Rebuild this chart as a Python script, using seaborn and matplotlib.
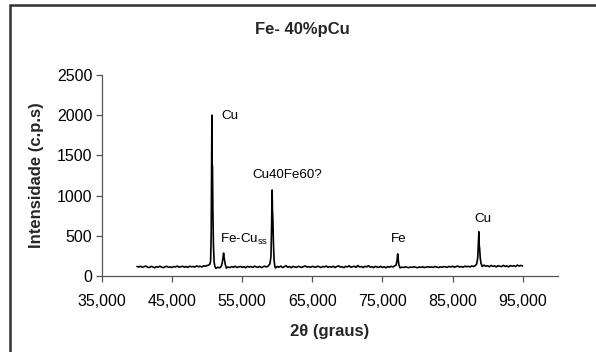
import matplotlib
matplotlib.use("Agg")
import matplotlib.pyplot as plt
from matplotlib.patches import Rectangle
from matplotlib.ticker import FuncFormatter, FixedLocator
import seaborn as sns
import pandas as pd

two_theta = [
    40.0, 40.25, 40.5, 40.75, 41.0, 41.25, 41.5, 41.75, 42.0, 42.25, 42.5, 42.75, 43.0, 43.25, 43.5, 43.75,
    44.0, 44.25, 44.5, 44.75, 45.0, 45.25, 45.5, 45.75, 46.0, 46.25, 46.5, 46.75, 47.0, 47.25, 47.5, 47.75,
    48.0, 48.25, 48.5, 48.75, 49.0, 49.25, 49.5, 49.75, 50.0, 50.25,
    50.4, 50.5, 50.58, 50.64, 50.68, 50.71, 50.76, 50.82, 50.9, 51.0, 51.1,
    51.25, 51.5, 51.75, 52.0,
    52.15, 52.27, 52.35, 52.42, 52.5, 52.6,
    52.75, 53.0, 53.25, 53.5, 53.75, 54.0, 54.25, 54.5, 54.75, 55.0, 55.25, 55.5, 55.75,
    56.0, 56.25, 56.5, 56.75, 57.0, 57.25, 57.5, 57.75, 58.0, 58.25, 58.5, 58.75,
    58.95, 59.1, 59.2, 59.27, 59.32, 59.38, 59.45, 59.55, 59.65,
    59.75, 60.0, 60.25, 60.5, 60.75, 61.0, 61.25, 61.5, 61.75, 62.0, 62.25, 62.5, 62.75,
    63.0, 63.25, 63.5, 63.75, 64.0, 64.25, 64.5, 64.75, 65.0, 65.25, 65.5, 65.75,
    66.0, 66.25, 66.5, 66.75, 67.0, 67.25, 67.5, 67.75, 68.0, 68.25, 68.5, 68.75,
    69.0, 69.25, 69.5, 69.75, 70.0, 70.25, 70.5, 70.75, 71.0, 71.25, 71.5, 71.75,
    72.0, 72.25, 72.5, 72.75, 73.0, 73.25, 73.5, 73.75, 74.0, 74.25, 74.5, 74.75,
    75.0, 75.25, 75.5, 75.75, 76.0, 76.25, 76.5, 76.75,
    76.95, 77.08, 77.18, 77.26, 77.35, 77.45,
    77.5, 77.75, 78.0, 78.25, 78.5, 78.75, 79.0, 79.25, 79.5, 79.75, 80.0, 80.25,
    80.5, 80.75, 81.0, 81.25, 81.5, 81.75, 82.0, 82.25, 82.5, 82.75, 83.0, 83.25,
    83.5, 83.75, 84.0, 84.25, 84.5, 84.75, 85.0, 85.25, 85.5, 85.75, 86.0, 86.25,
    86.5, 86.75, 87.0, 87.25, 87.5, 87.75, 88.0, 88.25,
    88.45, 88.6, 88.7, 88.76, 88.81, 88.87, 88.95, 89.05,
    89.25, 89.5, 89.75, 90.0, 90.25, 90.5, 90.75, 91.0, 91.25, 91.5, 91.75, 92.0,
    92.25, 92.5, 92.75, 93.0, 93.25, 93.5, 93.75, 94.0, 94.25, 94.5, 94.75, 95.0,
]
counts = [
    118, 112, 121, 108, 116, 124, 110, 105, 119, 113, 102, 117, 109, 122, 111, 104,
    115, 120, 108, 113, 106, 118, 112, 124, 109, 116, 121, 110, 118, 107, 123, 114,
    119, 111, 125, 116, 121, 113, 127, 122, 130, 138,
    150, 190, 520, 1300, 2000, 1380, 1370, 820, 380, 170, 120,
    95, 108, 102, 118,
    160, 240, 285, 230, 190, 140,
    98, 112, 105, 117, 109, 121, 106, 114, 119, 108, 116, 103, 120,
    111, 118, 107, 122, 113, 109, 119, 104, 116, 121, 112, 128,
    150, 240, 650, 1070, 820, 700, 420, 200, 120,
    100, 118, 110, 123, 106, 115, 128, 109, 117, 104, 120, 112, 108,
    121, 114, 106, 118, 125, 111, 116, 107, 120, 113, 109, 122,
    115, 105, 119, 112, 124, 108, 117, 110, 121, 106, 118, 126,
    111, 115, 104, 120, 113, 127, 109, 116, 122, 107, 131, 112,
    118, 105, 121, 113, 128, 110, 116, 104, 119, 112, 108, 120,
    106, 115, 102, 117, 109, 121, 112, 126,
    135, 190, 275, 200, 140, 112,
    102, 110, 106, 113, 108, 104, 111, 107, 115, 109, 103, 112,
    108, 114, 106, 110, 116, 109, 113, 107, 118, 111, 105, 114,
    109, 117, 112, 108, 119, 113, 121, 110, 116, 124, 112, 118,
    109, 122, 115, 120, 113, 125, 118, 130,
    150, 230, 420, 550, 380, 340, 230, 160,
    118, 135, 122, 128, 115, 131, 120, 126, 113, 129, 121, 117,
    132, 119, 125, 114, 130, 122, 127, 118, 136, 124, 131, 126,
]

peak_labels = ["Cu", "Fe-Cu$_{\\mathregular{ss}}$", "Cu40Fe60?", "Fe", "Cu"]
label_x = [52.0, 51.9, 56.5, 77.35, 89.3]
label_y = [1990, 450, 1260, 460, 710]
label_ha = ["left", "left", "left", "center", "center"]

x_ticks = [35, 45, 55, 65, 75, 85, 95]
y_ticks = [0, 500, 1000, 1500, 2000, 2500]

df = pd.DataFrame({"two_theta": two_theta, "counts": counts})

sns.set_theme(style="white")
plt.rcParams["font.family"] = ["Liberation Sans", "DejaVu Sans"]
plt.rcParams["mathtext.fontset"] = "custom"
plt.rcParams["mathtext.rm"] = "Liberation Sans"

fig = plt.figure(figsize=(5.96, 3.52), dpi=100)
ax = fig.add_axes([0.1711, 0.2159, 0.7646, 0.5710])

sns.lineplot(data=df, x="two_theta", y="counts", ax=ax, color="black",
             linewidth=1.2, sort=False, estimator=None)

ax.set_xlim(35, 100)
ax.set_ylim(0, 2500)
ax.xaxis.set_major_locator(FixedLocator(x_ticks))
ax.yaxis.set_major_locator(FixedLocator(y_ticks))
ax.xaxis.set_major_formatter(FuncFormatter(lambda v, p: f"{v:.3f}".replace(".", ",")))

for s in ["top", "right"]:
    ax.spines[s].set_visible(False)
for s in ["left", "bottom"]:
    ax.spines[s].set_color("#555555")
    ax.spines[s].set_linewidth(0.9)

ax.tick_params(axis="both", which="major", direction="out", length=4, width=0.9,
               color="#555555", labelsize=11.5, labelcolor="black", pad=3)
ax.tick_params(axis="x", bottom=True, pad=9)
ax.tick_params(axis="y", left=True, pad=3)

ax.set_xlabel("2θ (graus)", fontsize=12, fontweight="bold", labelpad=11)
ax.set_ylabel("Intensidade (c.p.s)", fontsize=12, fontweight="bold", labelpad=9)
ax.grid(False)

for t, xx, yy, ha in zip(peak_labels, label_x, label_y, label_ha):
    ax.text(xx, yy, t, fontsize=9.6, ha=ha, va="center", color="black")

fig.text(0.507, 0.917, "Fe- 40%pCu", ha="center", va="center",
         fontsize=12, fontweight="bold")

frame = Rectangle((0.0168, -0.5), 1.5, 1.486, transform=fig.transFigure,
                  fill=False, edgecolor="#333333", linewidth=1.8, clip_on=False)
fig.patches.append(frame)

fig.savefig("out.png", dpi=100)
